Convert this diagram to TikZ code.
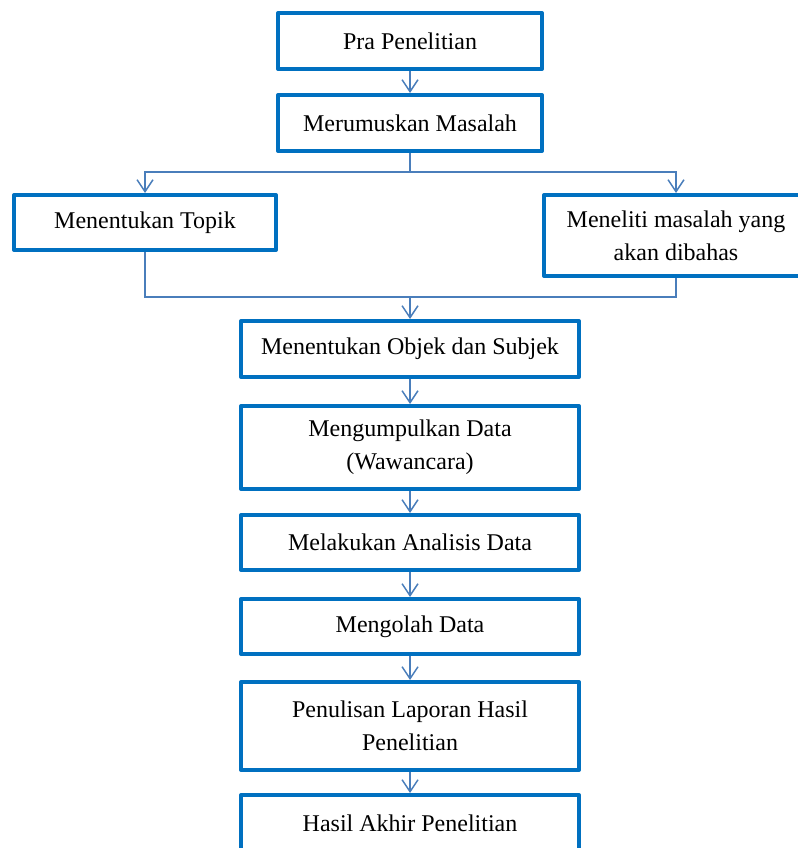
\documentclass[tikz,border=0pt]{standalone}
\usepackage{fontspec}
\setmainfont{Liberation Serif}
\usetikzlibrary{arrows.meta}
\definecolor{boxblue}{HTML}{0070C0}
\definecolor{lineblue}{HTML}{4A7EBB}
\tikzset{%
	box/.style={draw=boxblue,line width=3pt,line join=round,rectangle,align=center,font=\fontsize{18}{24.5}\selectfont,inner sep=2pt},
	link/.style={draw=lineblue,line width=1.1pt},
	flow/.style={link,-{Straight Barb[length=9pt,width=12pt,line width=1.1pt]}},
}

\begin{document}
\begin{tikzpicture}[x=0.75pt,y=-0.75pt]
			\useasboundingbox (0,0) rectangle (798,848);
			\node[box,minimum width=264*0.75pt,minimum height=56*0.75pt] (pra) at (410,41) {Pra Penelitian};
			\node[box,minimum width=264*0.75pt,minimum height=56*0.75pt] (rumus) at (410,123) {Merumuskan Masalah};
			\node[box,minimum width=262*0.75pt,minimum height=55*0.75pt] (topik) at (145,222.5) {Menentukan Topik};
			\node[box,minimum width=264*0.75pt,minimum height=81*0.75pt] (teliti) at (676,235.5) {Meneliti masalah yang\\akan dibahas};
			\node[box,minimum width=338*0.75pt,minimum height=56*0.75pt] (objek) at (410,349) {Menentukan Objek dan Subjek};
			\node[box,minimum width=338*0.75pt,minimum height=83*0.75pt] (kumpul) at (410,447.5) {Mengumpulkan Data\\(Wawancara)};
			\node[box,minimum width=338*0.75pt,minimum height=55*0.75pt] (analisis) at (410,542.5) {Melakukan Analisis Data};
			\node[box,minimum width=338*0.75pt,minimum height=55*0.75pt] (olah) at (410,626.5) {Mengolah Data};
			\node[box,minimum width=338*0.75pt,minimum height=88*0.75pt] (tulis) at (410,726) {Penulisan Laporan Hasil\\Penelitian};
			\node[box,minimum width=338*0.75pt,minimum height=56*0.75pt] (hasil) at (410,823) {Hasil Akhir Penelitian};
			\coordinate (split) at (410,172);
			\coordinate (join) at (410,297);
			\draw[flow] (pra.south) -- (rumus.north);
			\draw[link] (rumus.south) -- (split);
			\draw[flow] (split) -| (topik.north);
			\draw[flow] (split) -| (teliti.north);
			\draw[link] (topik.south) |- (join);
			\draw[link] (teliti.south) |- (join);
			\draw[flow] (join) -- (objek.north);
			\draw[flow] (objek.south) -- (kumpul.north);
			\draw[flow] (kumpul.south) -- (analisis.north);
			\draw[flow] (analisis.south) -- (olah.north);
			\draw[flow] (olah.south) -- (tulis.north);
			\draw[flow] (tulis.south) -- (hasil.north);
		\end{tikzpicture}
\end{document}
